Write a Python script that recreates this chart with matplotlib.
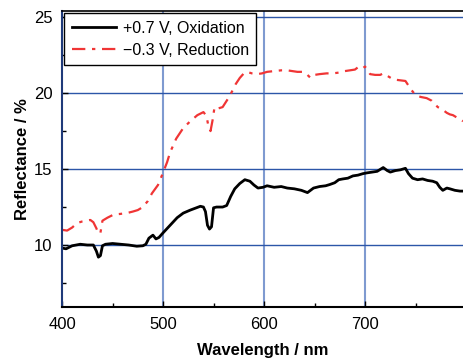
import numpy as np
import matplotlib
matplotlib.use('Agg')
import matplotlib.pyplot as plt
from matplotlib.ticker import MultipleLocator

plt.rcParams['font.family'] = ['Liberation Sans', 'DejaVu Sans']

# +0.7 V, oxidation (wavelength nm, reflectance %)
ox_wl = [400, 404, 410, 418, 425, 431, 434, 436, 438, 440, 443, 450, 458, 466, 474, 480,
         483, 486, 490, 493, 496, 500, 507, 514, 520, 527, 533, 537, 540, 542, 544, 546,
         548, 550, 553, 559, 563, 567, 571, 576, 581, 586, 590, 594, 599, 603, 610, 617,
         623, 630, 637, 643, 646, 649, 655, 661, 665, 670, 674, 678, 683, 688, 693, 698,
         702, 707, 712, 718, 722, 725, 730, 735, 740, 743, 747, 752, 757, 762, 767, 771,
         774, 777, 781, 784, 789, 794, 797]
ox_r = [9.8, 9.75, 9.95, 10.05, 10.0, 10.0, 9.6, 9.2, 9.3, 9.95, 10.05, 10.1, 10.05, 10.0,
        9.92, 9.95, 10.05, 10.45, 10.65, 10.4, 10.5, 10.8, 11.3, 11.8, 12.1, 12.3, 12.45,
        12.55, 12.5, 12.2, 11.3, 11.05, 11.2, 12.45, 12.5, 12.5, 12.6, 13.2, 13.7, 14.05,
        14.3, 14.2, 13.95, 13.75, 13.8, 13.9, 13.8, 13.85, 13.75, 13.7, 13.6, 13.45, 13.6,
        13.75, 13.85, 13.9, 13.98, 14.1, 14.3, 14.35, 14.4, 14.55, 14.6, 14.7, 14.75, 14.8,
        14.85, 15.1, 14.9, 14.8, 14.9, 14.95, 15.05, 14.7, 14.4, 14.3, 14.35, 14.25, 14.2,
        14.1, 13.8, 13.6, 13.75, 13.7, 13.6, 13.55, 13.55]

# -0.3 V, reduction
red_wl = [400, 405, 410, 415, 420, 428, 431, 434, 436, 438, 440, 445, 451, 458, 464, 470,
          475, 480, 485, 489, 495, 499, 504, 507, 513, 520, 527, 534, 540, 543, 545, 547,
          549, 551, 555, 559, 564, 568, 572, 576, 580, 583, 588, 593, 598, 603, 610, 617,
          623, 628, 633, 639, 643, 646, 650, 655, 662, 668, 674, 680, 685, 690, 693, 697,
          700, 703, 705, 710, 715, 718, 723, 728, 734, 740, 743, 746, 750, 755, 761, 766,
          772, 776, 781, 784, 787, 792, 796, 797]
red_r = [11.0, 10.95, 11.15, 11.45, 11.55, 11.65, 11.5, 11.1, 10.75, 10.8, 11.6, 11.8,
         12.0, 12.05, 12.1, 12.2, 12.3, 12.5, 12.9, 13.4, 13.95, 14.6, 15.45, 16.1, 17.0,
         17.7, 18.15, 18.55, 18.75, 18.5, 17.8, 17.5, 18.2, 19.08, 19.0, 19.08, 19.6, 20.07,
         20.6, 21.0, 21.3, 21.4, 21.3, 21.25, 21.3, 21.4, 21.45, 21.5, 21.5, 21.45, 21.4,
         21.4, 21.2, 21.0, 21.2, 21.25, 21.3, 21.3, 21.35, 21.45, 21.5, 21.55, 21.7, 21.6,
         21.75, 21.45, 21.25, 21.2, 21.2, 21.3, 21.1, 20.9, 20.85, 20.8, 20.5, 20.2, 19.87,
         19.75, 19.67, 19.5, 19.08, 18.95, 18.7, 18.6, 18.55, 18.35, 18.2, 18.15]

xticks = [400, 500, 600, 700]
yticks = [10, 15, 20, 25]

fig = plt.figure(figsize=(4.63, 3.58), dpi=100)
ax = fig.add_axes([0.134, 0.1425, 0.866, 0.8265])

for x in xticks[1:]:
    ax.axvline(x, color='#7f9ad0', lw=1.5, zorder=0)
for y in yticks:
    ax.axhline(y, color='#2c56a8', lw=1.0, zorder=0)

ax.plot(ox_wl, ox_r, color='black', lw=2.0, label='+0.7 V, Oxidation')
ax.plot(red_wl, red_r, color='#f03535', lw=1.6, dashes=(6, 3, 1.5, 3),
        label='\u22120.3 V, Reduction')

ax.set_xlim(400, 797)
ax.set_ylim(5.92, 25.4)
ax.set_xticks(xticks)
ax.set_yticks(yticks)
ax.xaxis.set_minor_locator(MultipleLocator(50))
ax.yaxis.set_minor_locator(MultipleLocator(2.5))
ax.tick_params(which='both', direction='in', labelsize=12, top=False, right=False)
ax.tick_params(which='major', length=4, width=1, pad=7)
ax.tick_params(which='minor', length=3, width=1)

ax.spines['right'].set_visible(False)
ax.spines['left'].set_color('#1f3a7a')
ax.spines['left'].set_linewidth(1.5)
ax.spines['bottom'].set_linewidth(1.5)
ax.spines['top'].set_linewidth(1.2)

ax.set_xlabel('Wavelength / nm', fontsize=12, fontweight='bold', labelpad=8)
ax.set_ylabel('Reflectance / %', fontsize=12, fontweight='bold', labelpad=3)

leg = ax.legend(loc='upper left', fontsize=11.5, fancybox=False, framealpha=1,
                edgecolor='black', borderaxespad=0.15, handlelength=2.8,
                borderpad=0.45, labelspacing=0.45, handletextpad=0.4)
leg.get_frame().set_linewidth(1.0)

fig.savefig('out.png', dpi=100)
